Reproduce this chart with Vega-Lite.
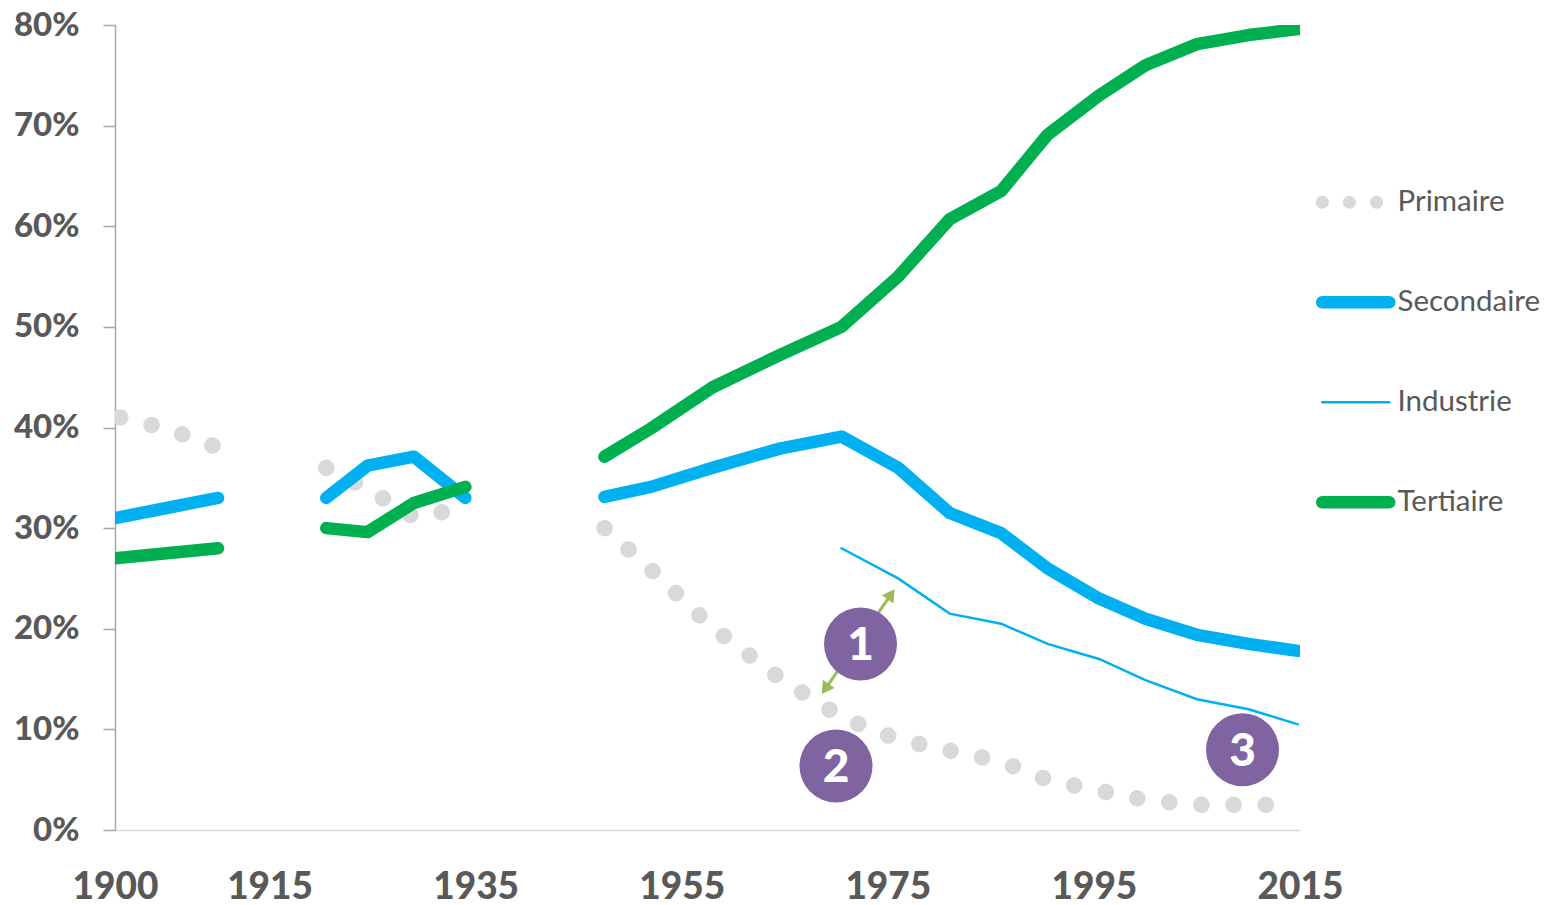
{
  "$schema": "https://vega.github.io/schema/vega-lite/v6.json",
  "width": 1185,
  "height": 805,
  "autosize": {"type": "none"},
  "padding": {"left": 115, "top": 25, "right": 254, "bottom": 75},
  "config": {"font": "Lato", "view": {"stroke": null}},
  "datasets": {
    "series": [
      {"sector": "Primaire", "seg": 1, "year": 1900.5, "value": 41.0},
      {"sector": "Primaire", "seg": 1, "year": 1905, "value": 39.9},
      {"sector": "Primaire", "seg": 1, "year": 1910, "value": 38.0},
      {"sector": "Primaire", "seg": 2, "year": 1920.5, "value": 36.0},
      {"sector": "Primaire", "seg": 2, "year": 1924.5, "value": 33.9},
      {"sector": "Primaire", "seg": 2, "year": 1929, "value": 31.1},
      {"sector": "Primaire", "seg": 2, "year": 1934, "value": 32.0},
      {"sector": "Primaire", "seg": 3, "year": 1947.5, "value": 30.0},
      {"sector": "Primaire", "seg": 3, "year": 1952, "value": 25.9},
      {"sector": "Primaire", "seg": 3, "year": 1958, "value": 20.1},
      {"sector": "Primaire", "seg": 3, "year": 1964.5, "value": 15.1},
      {"sector": "Primaire", "seg": 3, "year": 1970.5, "value": 11.2},
      {"sector": "Primaire", "seg": 3, "year": 1976, "value": 9.0},
      {"sector": "Primaire", "seg": 3, "year": 1981, "value": 7.9},
      {"sector": "Primaire", "seg": 3, "year": 1986, "value": 6.8},
      {"sector": "Primaire", "seg": 3, "year": 1990.5, "value": 5.0},
      {"sector": "Primaire", "seg": 3, "year": 1995.5, "value": 3.9},
      {"sector": "Primaire", "seg": 3, "year": 2000, "value": 3.0},
      {"sector": "Primaire", "seg": 3, "year": 2005, "value": 2.5},
      {"sector": "Primaire", "seg": 3, "year": 2010, "value": 2.5},
      {"sector": "Primaire", "seg": 3, "year": 2014.8, "value": 2.5},
      {"sector": "Secondaire", "seg": 1, "year": 1900, "value": 31.0},
      {"sector": "Secondaire", "seg": 1, "year": 1905, "value": 32.0},
      {"sector": "Secondaire", "seg": 1, "year": 1910, "value": 33.0},
      {"sector": "Secondaire", "seg": 2, "year": 1920.5, "value": 33.0},
      {"sector": "Secondaire", "seg": 2, "year": 1924.5, "value": 36.2},
      {"sector": "Secondaire", "seg": 2, "year": 1929, "value": 37.1},
      {"sector": "Secondaire", "seg": 2, "year": 1934, "value": 33.0},
      {"sector": "Secondaire", "seg": 3, "year": 1947.5, "value": 33.1},
      {"sector": "Secondaire", "seg": 3, "year": 1952, "value": 34.1},
      {"sector": "Secondaire", "seg": 3, "year": 1958, "value": 36.0},
      {"sector": "Secondaire", "seg": 3, "year": 1964.5, "value": 37.9},
      {"sector": "Secondaire", "seg": 3, "year": 1970.5, "value": 39.1},
      {"sector": "Secondaire", "seg": 3, "year": 1976, "value": 36.0},
      {"sector": "Secondaire", "seg": 3, "year": 1981, "value": 31.5},
      {"sector": "Secondaire", "seg": 3, "year": 1986, "value": 29.5},
      {"sector": "Secondaire", "seg": 3, "year": 1990.5, "value": 26.0},
      {"sector": "Secondaire", "seg": 3, "year": 1995.5, "value": 23.0},
      {"sector": "Secondaire", "seg": 3, "year": 2000, "value": 21.0},
      {"sector": "Secondaire", "seg": 3, "year": 2005, "value": 19.4},
      {"sector": "Secondaire", "seg": 3, "year": 2010, "value": 18.5},
      {"sector": "Secondaire", "seg": 3, "year": 2014.8, "value": 17.8},
      {"sector": "Industrie", "seg": 3, "year": 1970.5, "value": 28.0},
      {"sector": "Industrie", "seg": 3, "year": 1976, "value": 25.0},
      {"sector": "Industrie", "seg": 3, "year": 1981, "value": 21.5},
      {"sector": "Industrie", "seg": 3, "year": 1986, "value": 20.5},
      {"sector": "Industrie", "seg": 3, "year": 1990.5, "value": 18.5},
      {"sector": "Industrie", "seg": 3, "year": 1995.5, "value": 17.0},
      {"sector": "Industrie", "seg": 3, "year": 2000, "value": 14.9},
      {"sector": "Industrie", "seg": 3, "year": 2005, "value": 13.0},
      {"sector": "Industrie", "seg": 3, "year": 2010, "value": 12.0},
      {"sector": "Industrie", "seg": 3, "year": 2014.8, "value": 10.5},
      {"sector": "Tertiaire", "seg": 1, "year": 1900, "value": 27.0},
      {"sector": "Tertiaire", "seg": 1, "year": 1905, "value": 27.5},
      {"sector": "Tertiaire", "seg": 1, "year": 1910, "value": 28.0},
      {"sector": "Tertiaire", "seg": 2, "year": 1920.5, "value": 30.0},
      {"sector": "Tertiaire", "seg": 2, "year": 1924.5, "value": 29.6},
      {"sector": "Tertiaire", "seg": 2, "year": 1929, "value": 32.5},
      {"sector": "Tertiaire", "seg": 2, "year": 1934, "value": 34.1},
      {"sector": "Tertiaire", "seg": 3, "year": 1947.5, "value": 37.1},
      {"sector": "Tertiaire", "seg": 3, "year": 1952, "value": 39.9},
      {"sector": "Tertiaire", "seg": 3, "year": 1958, "value": 44.0},
      {"sector": "Tertiaire", "seg": 3, "year": 1964.5, "value": 47.2},
      {"sector": "Tertiaire", "seg": 3, "year": 1970.5, "value": 50.0},
      {"sector": "Tertiaire", "seg": 3, "year": 1976, "value": 55.0},
      {"sector": "Tertiaire", "seg": 3, "year": 1981, "value": 60.7},
      {"sector": "Tertiaire", "seg": 3, "year": 1986, "value": 63.5},
      {"sector": "Tertiaire", "seg": 3, "year": 1990.5, "value": 69.1},
      {"sector": "Tertiaire", "seg": 3, "year": 1995.5, "value": 73.0},
      {"sector": "Tertiaire", "seg": 3, "year": 2000, "value": 76.0},
      {"sector": "Tertiaire", "seg": 3, "year": 2005, "value": 78.1},
      {"sector": "Tertiaire", "seg": 3, "year": 2010, "value": 79.0},
      {"sector": "Tertiaire", "seg": 3, "year": 2014.8, "value": 79.6}
    ],
    "badges": [
      {"label": "1", "year": 1972.35, "value": 18.48},
      {"label": "2", "year": 1969.97, "value": 6.36},
      {"label": "3", "year": 2009.42, "value": 7.98}
    ],
    "arrow": [
      {"end": "bas", "year": 1968.93, "value": 14.02},
      {"end": "haut", "year": 1975.32, "value": 23.42}
    ]
  },
  "encoding": {
    "x": {
      "field": "year",
      "type": "quantitative",
      "scale": {"domain": [1900, 2015], "nice": false, "zero": false},
      "axis": {
        "values": [1900, 1915, 1935, 1955, 1975, 1995, 2015],
        "format": "d",
        "title": null,
        "grid": false,
        "ticks": false,
        "tickSize": 0,
        "domainColor": "#d9d9d9",
        "domainWidth": 1.5,
        "labelFont": "Lato",
        "labelFontWeight": 900,
        "labelFontSize": 37,
        "labelColor": "#595959",
        "labelPadding": 68,
        "labelBaseline": "alphabetic",
        "labelFlush": false,
        "labelOverlap": false,
        "labelBound": false
      }
    },
    "y": {
      "field": "value",
      "type": "quantitative",
      "scale": {"domain": [0, 80], "nice": false},
      "axis": {
        "values": [0, 10, 20, 30, 40, 50, 60, 70, 80],
        "labelExpr": "datum.value + '%'",
        "title": null,
        "grid": false,
        "tickSize": 12,
        "tickColor": "#a6a6a6",
        "tickWidth": 1.5,
        "domainColor": "#a6a6a6",
        "domainWidth": 1.5,
        "labelFont": "Lato",
        "labelFontWeight": 900,
        "labelFontSize": 33,
        "labelColor": "#595959",
        "labelPadding": 24,
        "labelFlush": false,
        "labelOverlap": false
      }
    }
  },
  "layer": [
    {
      "data": {"name": "series"},
      "transform": [{"filter": "datum.sector === 'Primaire'"}],
      "mark": {"type": "line", "strokeWidth": 16.5, "strokeDash": [0.1, 32.1], "strokeCap": "round", "clip": true},
      "encoding": {
        "detail": {"field": "seg", "type": "nominal"},
        "color": {
          "field": "sector",
          "type": "nominal",
          "scale": {"domain": ["Primaire", "Secondaire", "Industrie", "Tertiaire"], "range": ["#d9d9d9", "#00b0f0", "#00b0f0", "#00b050"]},
          "legend": {
            "title": null,
            "orient": "none",
            "legendX": 1226,
            "legendY": 162.5,
            "padding": 0,
            "rowPadding": 48,
            "gridAlign": "all",
            "symbolType": "stroke",
            "symbolSize": 4489,
            "symbolStrokeWidth": 12,
            "labelFont": "Lato",
            "labelFontSize": 29.5,
            "labelColor": "#595959",
            "labelOffset": 27,
            "encode": {
              "symbols": {
                "update": {
                  "strokeWidth": {"signal": "datum.value === 'Primaire' ? 13 : datum.value === 'Industrie' ? 2.7 : 12.5"},
                  "strokeDash": {"signal": "datum.value === 'Primaire' ? [0.1, 27] : [1, 0]"},
                  "strokeCap": {"value": "round"},
                  "opacity": {"value": 1}
                }
              }
            }
          }
        }
      }
    },
    {
      "data": {"name": "series"},
      "transform": [{"filter": "datum.sector === 'Secondaire'"}],
      "mark": {"type": "line", "strokeWidth": 12.5, "strokeCap": "round", "strokeJoin": "round", "clip": true},
      "encoding": {
        "detail": {"field": "seg", "type": "nominal"},
        "color": {"field": "sector", "type": "nominal", "legend": null}
      }
    },
    {
      "data": {"name": "series"},
      "transform": [{"filter": "datum.sector === 'Industrie'"}],
      "mark": {"type": "line", "strokeWidth": 2.5, "strokeCap": "round", "clip": true},
      "encoding": {
        "detail": {"field": "seg", "type": "nominal"},
        "color": {"field": "sector", "type": "nominal", "legend": null}
      }
    },
    {
      "data": {"name": "series"},
      "transform": [{"filter": "datum.sector === 'Tertiaire'"}],
      "mark": {"type": "line", "strokeWidth": 12.5, "strokeCap": "round", "strokeJoin": "round", "clip": true},
      "encoding": {
        "detail": {"field": "seg", "type": "nominal"},
        "color": {"field": "sector", "type": "nominal", "legend": null}
      }
    },
    {
      "data": {"name": "arrow"},
      "mark": {"type": "line", "strokeWidth": 3, "color": "#9bbb59"},
      "encoding": {}
    },
    {
      "data": {"name": "arrow"},
      "transform": [{"filter": "datum.end === 'haut'"}],
      "mark": {"type": "point", "shape": "triangle-up", "filled": true, "size": 200, "angle": 34.6, "color": "#9bbb59", "opacity": 1}
    },
    {
      "data": {"name": "arrow"},
      "transform": [{"filter": "datum.end === 'bas'"}],
      "mark": {"type": "point", "shape": "triangle-up", "filled": true, "size": 200, "angle": 214.6, "color": "#9bbb59", "opacity": 1}
    },
    {
      "data": {"name": "badges"},
      "mark": {"type": "circle", "size": 5329, "color": "#8064a2", "opacity": 1}
    },
    {
      "data": {"name": "badges"},
      "mark": {"type": "text", "color": "#ffffff", "font": "Lato", "fontSize": 46, "fontWeight": 900, "align": "center", "baseline": "middle", "dy": 2},
      "encoding": {"text": {"field": "label"}}
    }
  ]
}
